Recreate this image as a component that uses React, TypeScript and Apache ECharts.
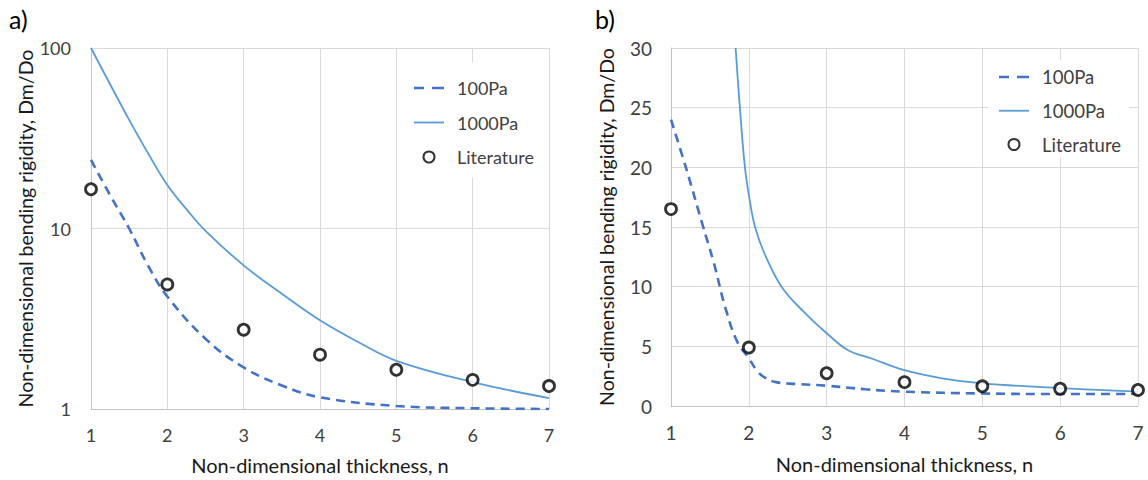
import React, { useEffect, useRef } from "react";
import * as echarts from "echarts";

// ---- data ----
const literatureN = [1, 2, 3, 4, 5, 6, 7];
const literatureD = [16.5, 4.9, 2.75, 2.0, 1.65, 1.45, 1.34];

// panel a) (log scale)
const logN100 = [1, 1.25, 1.5, 1.75, 2, 2.5, 3, 3.5, 4, 5, 6, 7];
const logD100 = [24, 15.3, 10, 6.2, 4.2, 2.45, 1.7, 1.35, 1.16, 1.04, 1.01, 1.0];
const logN1000 = [1, 1.25, 1.5, 1.75, 2, 2.25, 2.5, 3, 3.5, 4, 4.5, 5, 6, 7];
const logD1000 = [100, 63, 40, 26, 17.4, 12.8, 9.7, 6.25, 4.35, 3.1, 2.35, 1.85, 1.41, 1.15];

// panel b) (linear scale)
const linN100 = [1, 1.2, 1.4, 1.55, 1.7, 1.85, 2, 2.1, 2.2, 2.35, 2.6, 3, 3.5, 4, 5, 6, 7];
const linD100 = [24, 19.8, 15.3, 12, 8.2, 5.4, 4.0, 3.0, 2.4, 2.0, 1.85, 1.7, 1.4, 1.2, 1.05, 1.0, 1.0];
const linN1000 = [1.83, 1.885, 1.95, 2.01, 2.08, 2.2, 2.42, 2.72, 3.0, 3.27, 3.57, 4.0, 4.5, 5, 6, 7];
const linD1000 = [30, 25, 20, 17.3, 15, 12.8, 10, 7.8, 6.1, 4.7, 4.0, 3.0, 2.3, 1.9, 1.5, 1.2];

const seriesNames = ["100Pa", "1000Pa", "Literature"];
const xTitle = "Non-dimensional thickness, n";
const yTitle = "Non-dimensional bending rigidity, Dm/Do";

const zip = (xs: number[], ys: number[]) => xs.map((x, i) => [x, ys[i]]);

const FONT = "Lato";
const C100 = "#4472C4";
const C1000 = "#5B9BD5";
const GRID = "#d9d9d9";
const AXIS = "#c4c4c4";
const TICK = "#404040";

const ICON_DASH = "path://M0,0h10v2.6h-10z M18,0h12v2.6h-12z";
const ICON_SOLID = "path://M0,0h30v1.8h-30z";

export default function App() {
  const ref = useRef<HTMLDivElement>(null);
  useEffect(() => {
    if (!ref.current) return;
    const chart = echarts.init(ref.current, undefined, { renderer: "svg" });

    const xAxisBase = (gridIndex: number, fs: number, margin: number, gap: number) => ({
      type: "value",
      gridIndex,
      min: 1,
      max: 7,
      interval: 1,
      name: xTitle,
      nameLocation: "middle",
      nameGap: gap,
      nameTextStyle: { fontFamily: FONT, fontSize: 20, color: "#1a1a1a" },
      axisLine: { show: true, lineStyle: { color: AXIS, width: 1 } },
      axisTick: { show: false },
      axisLabel: { fontFamily: FONT, fontSize: fs, color: TICK, margin },
      splitLine: { show: true, lineStyle: { color: GRID, width: 1 } },
    });

    const legendBase = (left: number, top: number, padding: number[], fs: number, gap: number) => ({
      data: [
        { name: seriesNames[0], icon: ICON_DASH },
        { name: seriesNames[1], icon: ICON_SOLID },
        { name: seriesNames[2], icon: "circle" },
      ],
      orient: "vertical",
      left,
      top,
      padding,
      itemGap: gap,
      itemWidth: 30,
      itemHeight: 11,
      backgroundColor: "#ffffff",
      selectedMode: false,
      textStyle: {
        fontFamily: FONT,
        fontSize: fs,
        color: TICK,
        lineHeight: 22,
        padding: [0, 0, 0, 8],
      },
    });

    const lit = (xi: number) => ({
      name: "Literature",
      type: "scatter",
      xAxisIndex: xi,
      yAxisIndex: xi,
      data: zip(literatureN, literatureD),
      symbol: "circle",
      symbolSize: 11,
      itemStyle: { color: "#ffffff", borderColor: "#000000", borderWidth: 2.8 },
      z: 5,
    });

    const line100 = (xi: number, data: number[][]) => ({
      name: "100Pa",
      type: "line",
      xAxisIndex: xi,
      yAxisIndex: xi,
      data,
      smooth: 0.4,
      symbol: "none",
      lineStyle: { color: C100, width: 2.6, type: [9, 6] },
      itemStyle: { color: C100 },
    });

    const line1000 = (xi: number, data: number[][]) => ({
      name: "1000Pa",
      type: "line",
      xAxisIndex: xi,
      yAxisIndex: xi,
      data,
      smooth: 0.4,
      symbol: "none",
      lineStyle: { color: C1000, width: 1.8 },
      itemStyle: { color: C1000 },
    });

    chart.setOption({
      animation: false,
      backgroundColor: "#ffffff",
      textStyle: { fontFamily: FONT },
      grid: [
        { left: 91, right: 1148 - 549, top: 48, bottom: 480 - 410, containLabel: false },
        { left: 671, right: 1148 - 1138, top: 48, bottom: 480 - 406, containLabel: false },
      ],
      xAxis: [xAxisBase(0, 18, 17, 46), xAxisBase(1, 19, 17, 48)],
      yAxis: [
        {
          type: "log",
          gridIndex: 0,
          logBase: 10,
          min: 1,
          max: 100,
          name: yTitle,
          nameLocation: "middle",
          nameGap: 54,
          nameTextStyle: { fontFamily: FONT, fontSize: 19.5, color: "#1a1a1a" },
          axisLine: { show: true, lineStyle: { color: AXIS, width: 1 } },
          axisTick: { show: false },
          axisLabel: { fontFamily: FONT, fontSize: 18, color: TICK, margin: 20 },
          splitLine: { show: true, lineStyle: { color: GRID, width: 1 } },
        },
        {
          type: "value",
          gridIndex: 1,
          min: 0,
          max: 30,
          interval: 5,
          name: yTitle,
          nameLocation: "middle",
          nameGap: 55,
          nameTextStyle: { fontFamily: FONT, fontSize: 19.5, color: "#1a1a1a" },
          axisLine: { show: true, lineStyle: { color: AXIS, width: 1 } },
          axisTick: { show: false },
          axisLabel: { fontFamily: FONT, fontSize: 19, color: TICK, margin: 19 },
          splitLine: { show: true, lineStyle: { color: GRID, width: 1 } },
        },
      ],
      legend: [
        legendBase(408, 62, [15, 8, 10, 6], 18, 12.5),
        legendBase(988, 60, [6, 8, 2, 11], 18.5, 11.75),
      ],
      series: [
        line100(0, zip(logN100, logD100)),
        line1000(0, zip(logN1000, logD1000)),
        lit(0),
        line100(1, zip(linN100, linD100)),
        line1000(1, zip(linN1000, linD1000)),
        lit(1),
      ],
      graphic: [
        { type: "text", left: 9, top: 6, style: { text: "a)", fontFamily: FONT, fontSize: 25, fill: "#000" } },
        { type: "text", left: 595, top: 6, style: { text: "b)", fontFamily: FONT, fontSize: 25, fill: "#000" } },
      ],
    });
    return () => chart.dispose();
  }, []);

  return (
    <div
      ref={ref}
      style={{ position: "fixed", left: 0, top: 0, width: 1148, height: 480, background: "#fff" }}
    />
  );
}
